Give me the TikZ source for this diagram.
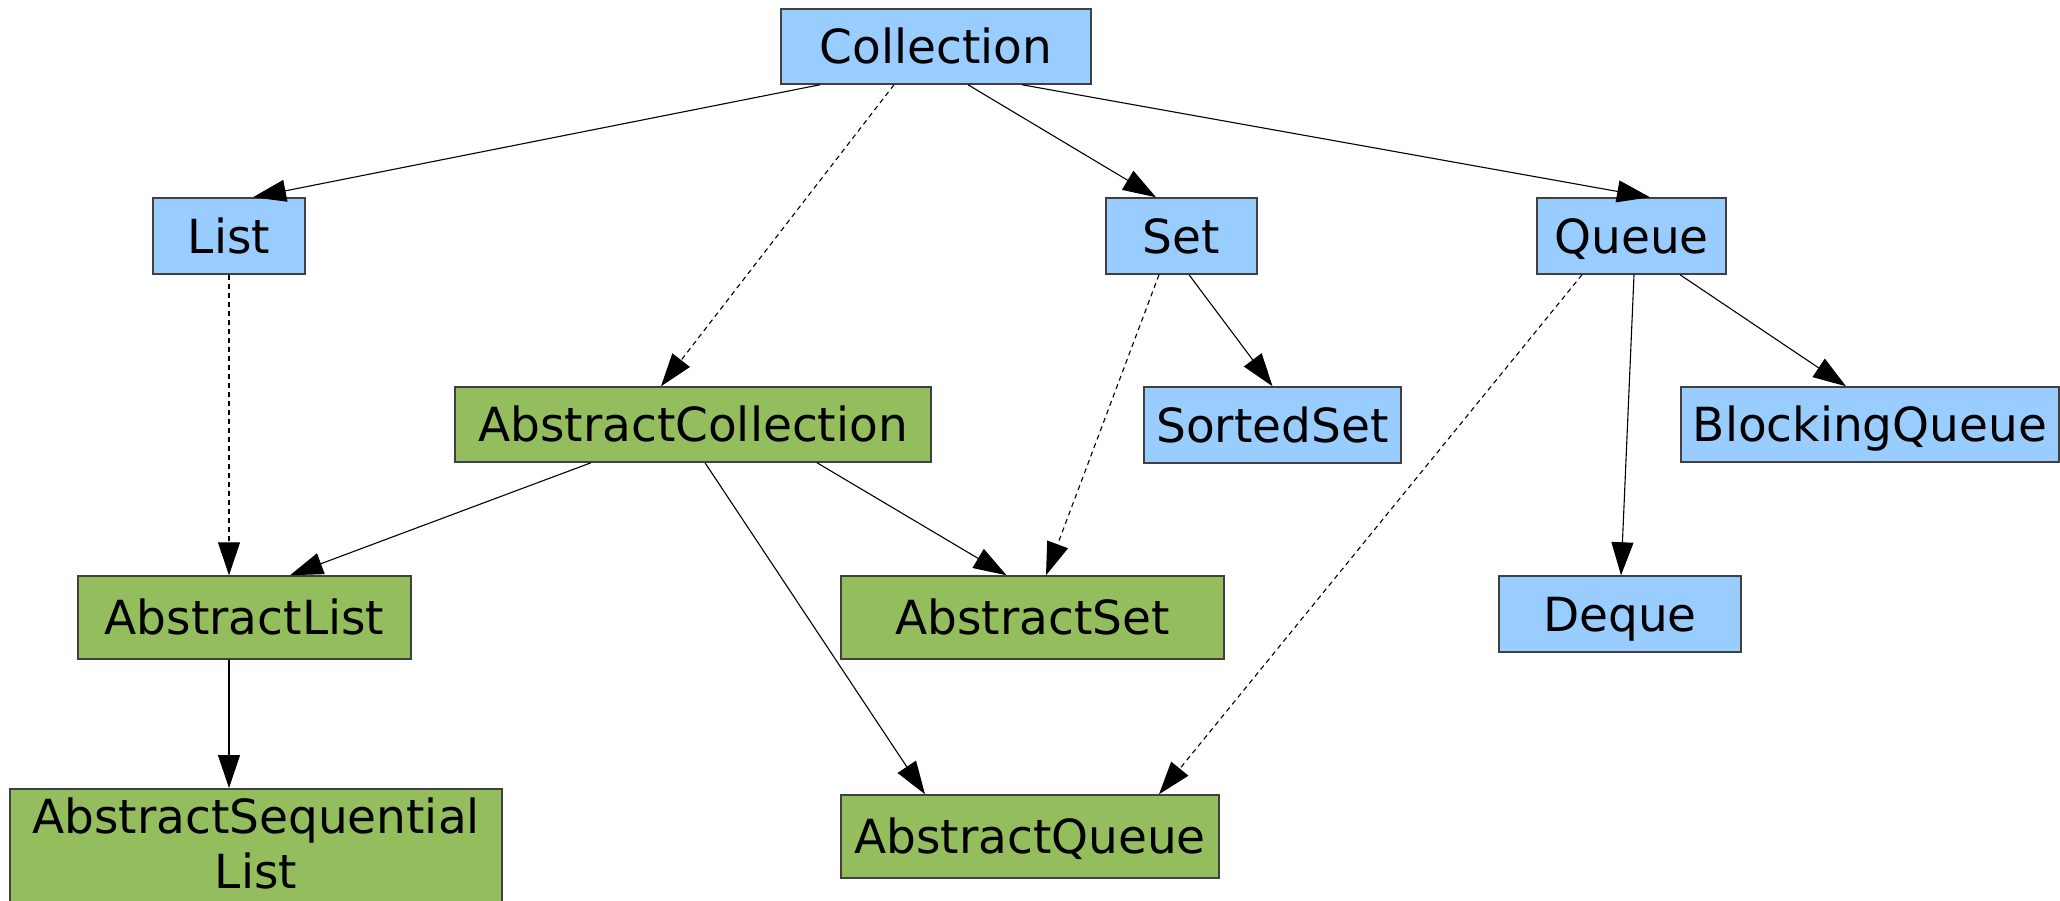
\documentclass[tikz,border=0pt]{standalone}
\usepackage{fontspec}
\setmainfont{DejaVu Sans}
\usepackage{tikz}
\usetikzlibrary{arrows.meta}

\definecolor{ifaceblue}{HTML}{99CCFF}
\definecolor{absgreen}{HTML}{94BD5E}

\tikzset{
  box/.style={draw=black!75, line width=1.5pt, inner sep=0pt,
    font=\fontsize{47}{55}\selectfont},
  oneline/.style={text height=34.5pt, text depth=0pt},
  iface/.style={box, oneline, fill=ifaceblue},
  absclass/.style={box, oneline, fill=absgreen},
  edge/.style={line width=1.1pt, -{Triangle[length=33pt,width=22pt]}},
  impl/.style={edge, dash pattern=on 5pt off 4pt},
}

\begin{document}
\begin{tikzpicture}[x=1pt,y=-1pt]
            \useasboundingbox (0,0) rectangle (2060,900);

            % interfaces
            \node[iface, minimum width=310pt, minimum height=75pt] (coll) at (936,46.5) {Collection};
            \node[iface, minimum width=152pt, minimum height=76pt] (list) at (229,236) {List};
            \node[iface, minimum width=151pt, minimum height=76pt] (set) at (1181.5,236) {Set};
            \node[iface, minimum width=189pt, minimum height=76pt] (queue) at (1631.5,236) {Queue};
            \node[iface, minimum width=257pt, minimum height=76pt] (sortedset) at (1272.5,425) {SortedSet};
            \node[iface, minimum width=378pt, minimum height=75pt] (blockq) at (1870,424.5) {BlockingQueue};
            \node[iface, minimum width=242pt, minimum height=76pt] (deque) at (1620,614) {Deque};

            % abstract classes
            \node[absclass, minimum width=476pt, minimum height=75pt] (abscoll) at (693,424.5) {AbstractCollection};
            \node[absclass, minimum width=333pt, minimum height=83pt] (abslist) at (244.5,617.5) {AbstractList};
            \node[absclass, minimum width=383pt, minimum height=83pt] (absset) at (1032.5,617.5) {AbstractSet};
            \node[absclass, minimum width=378pt, minimum height=83pt] (absqueue) at (1030,836.5) {AbstractQueue};
            \node[box, fill=absgreen, align=center, minimum width=492pt, inner ysep=9pt,
                  anchor=north] (absseqlist) at (256,788) {AbstractSequential\\List\strut};

            % extends
            \draw[edge] ([xshift=-116pt]coll.south) -- ([xshift=24pt]list.north);
            \draw[edge] ([xshift=32pt]coll.south) -- ([xshift=-25.5pt]set.north);
            \draw[edge] ([xshift=86pt]coll.south) -- ([xshift=18.5pt]queue.north);
            \draw[edge] ([xshift=7.5pt]set.south) -- (sortedset.north);
            \draw[edge] ([xshift=2.5pt]queue.south) -- ([xshift=1pt]deque.north);
            \draw[edge] ([xshift=48.5pt]queue.south) -- ([xshift=-24pt]blockq.north);
            \draw[edge] ([xshift=-102pt]abscoll.south) -- ([xshift=45.5pt]abslist.north);
            \draw[edge] ([xshift=12pt]abscoll.south) -- ([xshift=-105pt]absqueue.north);
            \draw[edge] ([xshift=124pt]abscoll.south) -- ([xshift=-26pt]absset.north);
            \draw[edge] ([xshift=-15.5pt]abslist.south) -- ([xshift=-27pt]absseqlist.north);

            % implements
            \draw[impl] ([xshift=-42pt]coll.south) -- ([xshift=-32pt]abscoll.north);
            \draw[impl] (list.south) -- ([xshift=-15.5pt]abslist.north);
            \draw[impl] ([xshift=-22.5pt]set.south) -- ([xshift=13.5pt]absset.north);
            \draw[impl] ([xshift=-49.5pt]queue.south) -- ([xshift=129pt]absqueue.north);
\end{tikzpicture}
\end{document}
